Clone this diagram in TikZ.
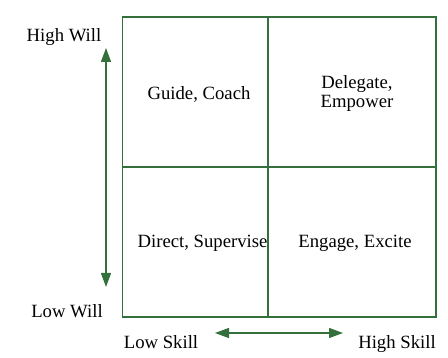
\documentclass[tikz,border=0pt]{standalone}
\usepackage{fontspec}
\newfontfamily\labelfont{Liberation Serif}
\usetikzlibrary{arrows.meta}
\definecolor{gridgreen}{RGB}{52,112,60}
\tikzset{
  cell/.style={draw=gridgreen, line width=1.4pt},
  lbl/.style={font=\labelfont\fontsize{18.7}{21}\selectfont, text=black, inner sep=0pt, anchor=base},
  axis/.style={draw=gridgreen, line width=1.3pt,
    {Triangle[length=14pt,width=10pt]}-{Triangle[length=14pt,width=10pt]}}
}
\begin{document}
\begin{tikzpicture}[x=1pt,y=-1pt]
  \useasboundingbox (0,0) rectangle (448,358);
  % quadrant grid
  \coordinate (tl) at (122.5,17);
  \coordinate (br) at (436,317);
  \draw[cell] (tl) rectangle (br);
  \draw[cell] (268,17) -- (268,317);
  \draw[cell] (122.5,167) -- (436,167);
  % quadrant labels
  \node[lbl] (q1) at (199,100) {Guide, Coach};
  \node[lbl] (q2a) at (357,89) {Delegate,};
  \node[lbl] (q2b) at (357,108) {Empower};
  \node[lbl] (q3) at (202.5,248) {Direct, Supervise};
  \node[lbl] (q4) at (355,248) {Engage, Excite};
  % axis labels
  \node[lbl] (hw) at (64,42) {High Will};
  \node[lbl] (lw) at (67,318) {Low Will};
  \node[lbl] (ls) at (161,349) {Low Skill};
  \node[lbl] (hs) at (397,349) {High Skill};
  % axis arrows
  \coordinate (vtop) at (106,48);
  \coordinate (vbot) at (106,287);
  \coordinate (hl) at (215,333);
  \coordinate (hr) at (343,333);
  \draw[axis] (vtop) -- (vbot);
  \draw[axis] (hl) -- (hr);
\end{tikzpicture}
\end{document}
